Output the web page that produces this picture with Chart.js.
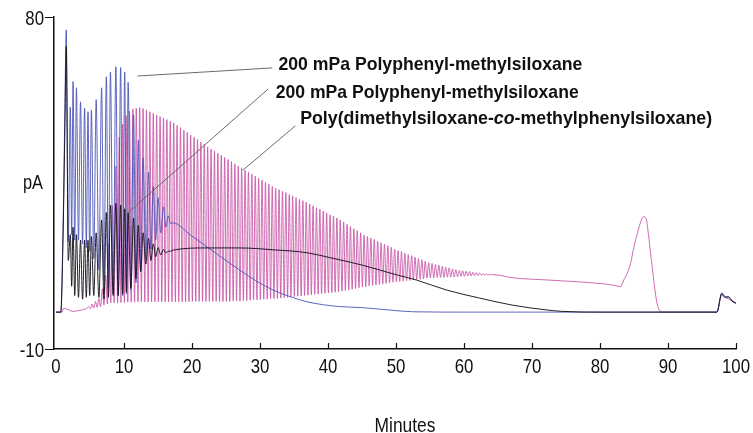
<!DOCTYPE html>
<html>
<head>
<meta charset="utf-8">
<script src="https://cdn.jsdelivr.net/npm/chart.js@4.4.1/dist/chart.umd.min.js"></script>
<style>
  html, body { margin: 0; padding: 0; background: #fff; }
</style>
</head>
<body>
<canvas id="chart" width="753" height="433"></canvas>
<script>
// ---- data (minutes / pA) ----
const seriesNames = [
  '200 mPa Polyphenyl-methylsiloxane',
  '200 mPa Polyphenyl-methylsiloxane',
  'Poly(dimethylsiloxane-co-methylphenylsiloxane)'
];
const xTicks = [0, 10, 20, 30, 40, 50, 60, 70, 80, 90, 100];
const yTicks = [-10, 80];

// injection rise shared by the blue and black traces
const riseTimes = [0, 0.7, 1.05, 1.3];
const blueRise = [0, 0, 25, 55];
const blackRise = [0, 0, 22, 50];

// early burst: peak / trough times
const burstPeakTimes = [1.5, 2.1, 2.5, 3.0, 3.6, 4.2, 4.7, 5.2, 5.9, 6.7, 7.4, 8.0, 8.8, 9.5, 10.1, 10.6, 11.4, 12.1, 12.8, 13.6, 14.3, 15.0, 15.8, 16.5];
const burstTroughTimes = [1.8, 2.3, 2.75, 3.3, 3.9, 4.45, 4.95, 5.55, 6.3, 7.05, 7.7, 8.4, 9.15, 9.8, 10.35, 11.0, 11.75, 12.45, 13.2, 13.95, 14.65, 15.4, 16.15, 16.85];

const bluePeaks = [76.5, 55.6, 62.5, 60.8, 57, 55.3, 54.3, 54.8, 57.6, 60.8, 63.8, 65.1, 66.5, 66.3, 65.1, 62.3, 53.5, 46.6, 41.8, 37.9, 34, 31, 28.5, 26.1];
const blueTroughs = [19, 21, 19.5, 19.5, 18.5, 17.5, 16.5, 14.5, 11.5, 8.5, 6.5, 5, 4.5, 4.5, 5, 6, 8, 11, 14.5, 17, 19.5, 21.5, 23, 24];
const blackPeaks = [72, 21, 23, 21, 19.5, 19.5, 19.5, 20.5, 21.5, 25, 27, 29, 29.5, 29, 28, 27, 25.5, 23.5, 21.5, 20, 18.5, 17.5, 17, 16.5];
const blackTroughs = [14, 7, 4.5, 4, 3.5, 4, 4.5, 4.5, 4, 3.5, 4, 4.5, 4.5, 5, 5.5, 6.5, 9, 11, 13, 14, 15, 15.5, 16, 16.5];

// smooth tails
const blueTailTimes = [17.2, 19.7, 22.2, 24.6, 27.0, 29.4, 31.9, 34.4, 36.9, 39.3, 41.7, 45.1, 48.8, 52.4, 60, 70, 80, 90, 97.2, 97.9, 98.4, 98.9, 99.4, 100];
const blueTail = [24.2, 21, 17.7, 14.5, 11.4, 8.5, 6.0, 4.2, 2.8, 2.0, 1.5, 1.2, 0.6, 0.1, 0, 0, 0, 0, 0, 5.2, 4.2, 4.0, 3.2, 2.4];
const blackTailTimes = [17.2, 22.2, 27.0, 31.9, 36.9, 40.2, 45.1, 50.1, 53.0, 57.4, 62.3, 67.1, 72.1, 74.4, 80, 90, 97.2, 97.9, 98.4, 98.9, 99.4, 100];
const blackTail = [16.8, 17.4, 17.4, 16.9, 16.1, 14.8, 12.7, 10.1, 8.7, 6.0, 3.8, 1.9, 0.6, 0.2, 0, 0, 0, 5.0, 4.0, 4.2, 3.0, 2.4];

// pink trace: flat start, then a long ringing run, then the late peak
const pinkLeadTimes = [0, 0.9, 1.1, 1.6, 2.5, 3.5, 4.5];
const pinkLead = [0, 0, 1, 0.8, 0.2, 0.5, 1.0];
const pinkStart = 4.8;    // first ringing peak, minutes
const pinkPeriod = 0.5;   // minutes per cycle
const pinkPeaks = [
  1.5, 2.2, 2.9, 3.7, 6.3, 10.0, 18.6, 28.9, 39.6, 47.4,
  51.0, 53.3, 54.5, 55.1, 55.3, 55.5, 55.2, 54.8, 54.3, 53.9,
  53.4, 53.0, 52.6, 52.2, 51.7, 51.3, 50.6, 50.0, 49.3, 48.7,
  48.0, 47.4, 46.8, 46.1, 45.5, 44.8, 44.2, 43.7, 43.1, 42.5,
  41.9, 41.4, 40.8, 40.2, 39.6, 39.1, 38.5, 38.0, 37.4, 36.9,
  36.3, 35.8, 35.2, 34.7, 34.1, 33.6, 33.2, 32.8, 32.4, 31.9,
  31.5, 31.1, 30.6, 30.2, 29.8, 29.3, 28.8, 28.3, 27.9, 27.4,
  26.9, 26.4, 26.0, 25.5, 25.0, 24.4, 23.8, 23.2, 22.6, 22.1,
  21.5, 20.9, 20.5, 20.1, 19.7, 19.2, 18.8, 18.4, 18.0, 17.6,
  17.1, 16.7, 16.4, 16.0, 15.6, 15.3, 14.9, 14.5, 14.2, 13.8,
  13.4, 13.2, 12.9, 12.7, 12.4, 12.2, 12.0, 11.7, 11.5, 11.3,
  11.2, 11.1, 11.0, 10.8, 10.7, 10.6, 10.5, 10.4, 10.3, 10.2
];
const pinkTroughs = [
  0.9, 1.1, 1.3, 1.5, 1.9, 2.2, 2.5, 2.5, 2.6, 2.6,
  2.6, 2.7, 2.7, 2.7, 2.8, 2.8, 2.8, 2.8, 2.8, 2.8,
  2.8, 2.8, 2.8, 2.8, 2.8, 2.8, 2.8, 2.8, 2.8, 2.8,
  2.9, 2.9, 2.9, 2.9, 2.9, 2.9, 2.9, 2.9, 2.9, 2.9,
  2.9, 2.9, 3.0, 3.0, 3.0, 3.1, 3.1, 3.2, 3.3, 3.3,
  3.4, 3.5, 3.5, 3.6, 3.6, 3.7, 3.8, 3.9, 4.0, 4.1,
  4.2, 4.3, 4.4, 4.5, 4.6, 4.7, 4.8, 4.9, 5.0, 5.1,
  5.2, 5.3, 5.4, 5.5, 5.7, 5.9, 6.0, 6.2, 6.4, 6.6,
  6.8, 6.9, 7.1, 7.2, 7.4, 7.5, 7.6, 7.8, 7.9, 8.1,
  8.2, 8.3, 8.4, 8.5, 8.6, 8.7, 8.8, 8.9, 9.0, 9.2,
  9.3, 9.3, 9.4, 9.4, 9.4, 9.5, 9.5, 9.5, 9.6, 9.7,
  9.7, 9.8, 9.8, 9.9, 9.9, 10.0, 10.0, 10.0, 10.1, 10.1
];
const pinkTailTimes = [64.5, 67.2, 72.3, 74.2, 79.1, 82.0, 83.0, 83.5, 84.0, 84.5, 85.0, 85.5, 86.0, 86.4, 86.8, 87.1, 87.5, 87.9, 88.3, 88.7, 89.3, 97.2, 97.9, 98.4, 98.9, 99.4, 100];
const pinkTail = [10.1, 9.3, 8.7, 8.5, 7.9, 7.3, 6.9, 8.7, 10.5, 13.3, 17.8, 21.4, 24.5, 25.9, 25.3, 21.4, 15, 8.7, 3.3, 0.6, 0, 0, 4.6, 4.0, 3.6, 3.0, 2.5];

// ---- build point lists ----
const pts = (xs, ys) => xs.map((x, i) => ({ x: x, y: ys[i] }));

const burst = (peaks, troughs) => {
  const out = [];
  peaks.forEach((p, i) => {
    out.push({ x: burstPeakTimes[i], y: p });
    out.push({ x: burstTroughTimes[i], y: troughs[i] });
  });
  return out;
};

const bluePoints = [...pts(riseTimes, blueRise), ...burst(bluePeaks, blueTroughs), ...pts(blueTailTimes, blueTail)];
const blackPoints = [...pts(riseTimes, blackRise), ...burst(blackPeaks, blackTroughs), ...pts(blackTailTimes, blackTail)];

const pinkRing = [];
pinkPeaks.forEach((p, k) => {
  const t = pinkStart + k * pinkPeriod;
  pinkRing.push({ x: t, y: p });
  pinkRing.push({ x: t + pinkPeriod / 2, y: pinkTroughs[k] });
});
const pinkPoints = [...pts(pinkLeadTimes, pinkLead), ...pinkRing, ...pts(pinkTailTimes, pinkTail)];

// ---- styling / annotations ----
const FONT = '"Liberation Sans", Arial, sans-serif';
const INK = '#111';

// callouts: leader line (data coords), text anchor (data coords), width in px
const callouts = [
  { line: [11.96, 64.0, 31.8, 66.2], at: [32.7, 67.0], width: 304, parts: [[seriesNames[0], false]] },
  { line: [10.2, 26.3, 31.2, 60.5], at: [32.3, 59.4], width: 303, parts: [[seriesNames[1], false]] },
  { line: [27.5, 38.5, 35.2, 50.5], at: [35.9, 52.4], width: 412, parts: [['Poly(dimethylsiloxane-', false], ['co', true], ['-methylphenylsiloxane)', false]] }
];

// condensed text: plain font squeezed horizontally
const narrowText = (ctx, txt, x, y, font, sx, align) => {
  ctx.save();
  ctx.font = font;
  const w = ctx.measureText(txt).width * sx;
  let left = x;
  if (align === 'center') left = x - w / 2;
  if (align === 'right') left = x - w;
  ctx.translate(left, y);
  ctx.scale(sx, 1);
  ctx.textAlign = 'left';
  ctx.textBaseline = 'middle';
  ctx.fillText(txt, 0, 0);
  ctx.restore();
};

const decorations = {
  id: 'decorations',
  afterDatasetsDraw(chart) {
    const { ctx, scales: { x, y }, chartArea } = chart;
    ctx.save();
    ctx.fillStyle = INK;

    // inward x ticks
    ctx.strokeStyle = INK;
    ctx.lineWidth = 1.2;
    xTicks.forEach(v => {
      if (v === 0) return;
      const px = Math.round(x.getPixelForValue(v)) + 0.5;
      ctx.beginPath();
      ctx.moveTo(px, chartArea.bottom);
      ctx.lineTo(px, chartArea.bottom - 6);
      ctx.stroke();
    });

    // tick labels and axis titles
    const tickFont = '21px ' + FONT;
    xTicks.forEach(v => narrowText(ctx, String(v), x.getPixelForValue(v), chartArea.bottom + 18, tickFont, 0.8, 'center'));
    yTicks.forEach(v => narrowText(ctx, String(v), 44, y.getPixelForValue(v) + 2, tickFont, 0.8, 'right'));
    narrowText(ctx, 'pA', 33, y.getPixelForValue(35), tickFont, 0.78, 'center');
    narrowText(ctx, 'Minutes', 405, 426, '20px ' + FONT, 0.87, 'center');

    // leader lines
    ctx.strokeStyle = '#6b6b6b';
    ctx.lineWidth = 1;
    callouts.forEach(c => {
      ctx.beginPath();
      ctx.moveTo(x.getPixelForValue(c.line[0]), y.getPixelForValue(c.line[1]));
      ctx.lineTo(x.getPixelForValue(c.line[2]), y.getPixelForValue(c.line[3]));
      ctx.stroke();
    });

    // callout text, fitted to its width
    callouts.forEach(c => {
      const fonts = c.parts.map(([, italic]) => (italic ? 'italic ' : '') + 'bold 19px ' + FONT);
      let natural = 0;
      c.parts.forEach(([txt], i) => { ctx.font = fonts[i]; natural += ctx.measureText(txt).width; });
      const sx = c.width / natural;
      ctx.save();
      ctx.translate(x.getPixelForValue(c.at[0]), y.getPixelForValue(c.at[1]));
      ctx.scale(sx, 1);
      ctx.textAlign = 'left';
      ctx.textBaseline = 'middle';
      let off = 0;
      c.parts.forEach(([txt], i) => {
        ctx.font = fonts[i];
        ctx.fillText(txt, off, 0);
        off += ctx.measureText(txt).width;
      });
      ctx.restore();
    });

    ctx.restore();
  }
};

const chartConfig = {
  type: 'line',
  data: {
    datasets: [
      { label: seriesNames[1], data: blackPoints, borderColor: 'rgba(25,20,30,0.95)' },
      { label: seriesNames[0], data: bluePoints, borderColor: 'rgba(72,82,182,0.88)' },
      { label: seriesNames[2], data: pinkPoints, borderColor: 'rgba(200,82,166,0.85)' }
    ]
  },
  options: {
    responsive: false,
    animation: false,
    parsing: false,
    layout: { padding: { top: 17, right: 17, left: 0, bottom: 0 } },
    plugins: { legend: { display: false }, tooltip: { enabled: false } },
    elements: {
      point: { radius: 0 },
      line: { borderWidth: 1, cubicInterpolationMode: 'monotone', fill: false }
    },
    scales: {
      x: {
        type: 'linear',
        min: -0.3,
        max: 100,
        afterBuildTicks: s => { s.ticks = xTicks.map(v => ({ value: v })); },
        afterFit: s => { s.height = 84; },
        grid: { drawOnChartArea: false, drawTicks: false },
        border: { color: INK, width: 1.5 },
        ticks: { display: false }
      },
      y: {
        min: -10,
        max: 80,
        afterBuildTicks: s => { s.ticks = yTicks.map(v => ({ value: v })); },
        afterFit: s => { s.width = 54; },
        grid: { drawOnChartArea: false, tickLength: 9, color: INK },
        border: { color: INK, width: 1.5 },
        ticks: { display: false }
      }
    }
  },
  plugins: [decorations]
};

new Chart(document.getElementById('chart'), chartConfig);
</script>
</body>
</html>
